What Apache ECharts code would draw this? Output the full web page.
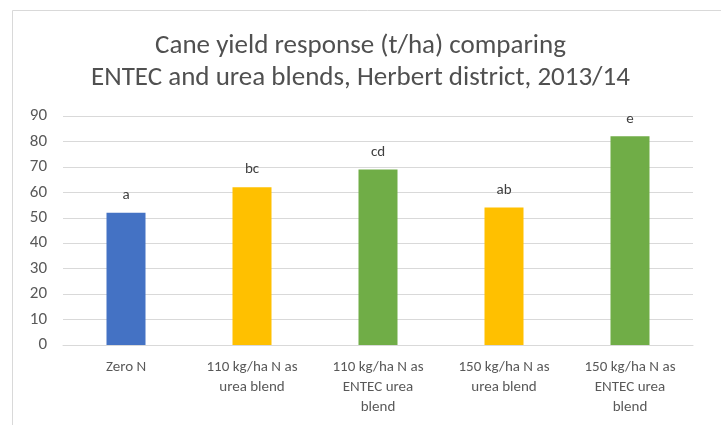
<!DOCTYPE html>
<html><head><meta charset="utf-8">
<script src="https://cdn.jsdelivr.net/npm/echarts@6/dist/echarts.min.js"></script>
<style>html,body{margin:0;padding:0;background:#fff}#c{width:721px;height:425px}</style>
</head><body><div id="c"></div>
<script>
const categories = ["Zero N", "110 kg/ha N as\nurea blend", "110 kg/ha N as\nENTEC urea\nblend", "150 kg/ha N as\nurea blend", "150 kg/ha N as\nENTEC urea\nblend"];
const yieldValues = [52, 62, 69, 54, 82];
const letters = ["a", "bc", "cd", "ab", "e"];
const barColors = ["#4472C4", "#FFC000", "#70AD47", "#FFC000", "#70AD47"];
const titleText = "Cane yield response (t/ha) comparing\nENTEC and urea blends, Herbert district, 2013/14";

const FONT = "Carlito, 'Liberation Sans Narrow', 'Open Sans', sans-serif";
const chart = echarts.init(document.getElementById('c'), null, {renderer: 'canvas'});
chart.setOption({
  backgroundColor: '#fff',
  animation: false,
  graphic: [{type: 'rect', shape: {x: 12.5, y: 10.5, width: 730, height: 430}, style: {fill: 'none', stroke: '#d9d9d9', lineWidth: 1}, silent: true}],
  title: {
    text: titleText, left: 'center', top: 25,
    textStyle: {fontFamily: FONT, fontSize: 27, fontWeight: 'normal', color: '#505050', lineHeight: 32}
  },
  grid: {left: 63, right: 28, top: 116, bottom: 80},
  xAxis: {
    type: 'category', data: categories,
    axisLine: {lineStyle: {color: '#d9d9d9'}},
    axisTick: {show: false},
    axisLabel: {fontFamily: FONT, fontSize: 15, color: '#595959', lineHeight: 20, margin: 12, interval: 0}
  },
  yAxis: {
    type: 'value', min: 0, max: 90, interval: 10,
    axisLine: {show: false}, axisTick: {show: false},
    splitLine: {lineStyle: {color: '#d9d9d9'}},
    axisLabel: {fontFamily: FONT, fontSize: 17, color: '#595959', margin: 16}
  },
  series: [{
    type: 'bar', barWidth: 39,
    data: yieldValues.map((v, i) => ({value: v, itemStyle: {color: barColors[i]}})),
    label: {show: true, position: 'top', distance: 10, fontFamily: FONT, fontSize: 15, color: '#404040',
      formatter: p => letters[p.dataIndex]}
  }]
});
</script></body></html>
